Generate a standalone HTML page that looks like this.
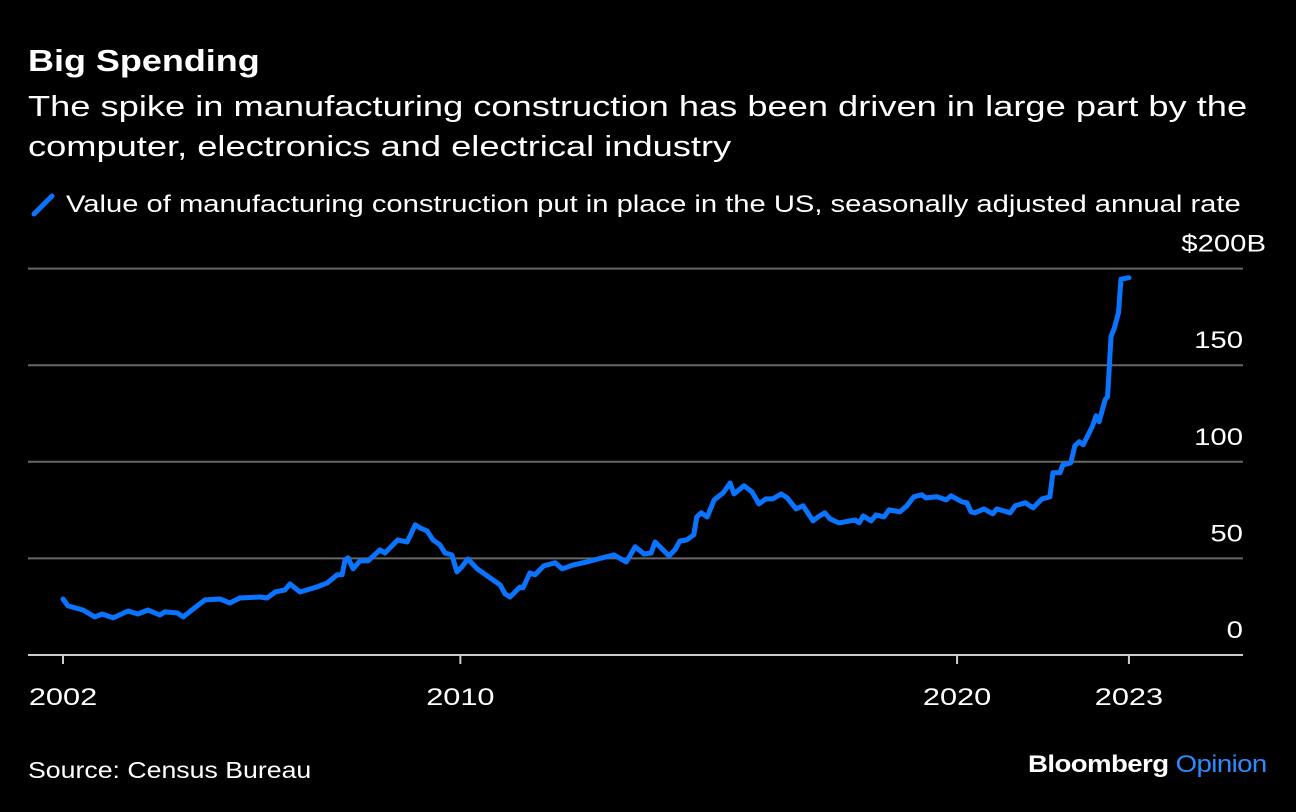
<!DOCTYPE html>
<html><head><meta charset="utf-8"><style>
body{margin:0;background:#000;width:1296px;height:812px;overflow:hidden;font-family:"Liberation Sans",Arial,sans-serif;color:#fff}
.t{position:absolute;white-space:nowrap;transform-origin:0 0}
</style></head><body>
<div class="t" style="left:28px;top:43px;font-size:31px;font-weight:bold;transform:scaleX(1.16)">Big Spending</div>
<div class="t" style="left:28px;top:87px;font-size:29px;line-height:40px;transform:scaleX(1.25)">The spike in manufacturing construction has been driven in large part by the<br>computer, electronics and electrical industry</div>
<svg width="26" height="30" style="position:absolute;left:30px;top:190px"><line x1="4" y1="24" x2="22" y2="6" stroke="#0a74ff" stroke-width="5" stroke-linecap="round"/></svg>
<div class="t" style="left:66px;top:191px;font-size:24px;transform:scaleX(1.215)">Value of manufacturing construction put in place in the US, seasonally adjusted annual rate</div>
<svg id="chart" width="1296" height="812" style="position:absolute;left:0;top:0"></svg>
<div class="t" style="left:28px;top:757px;font-size:23px;transform:scaleX(1.16)">Source: Census Bureau</div>
<div class="t" style="left:1028px;top:751px;font-size:24px;font-weight:bold;letter-spacing:-0.5px;transform:scaleX(1.15)">Bloomberg <span style="color:#2b8bff;font-weight:normal">Opinion</span></div>
<script>
const years=[2002.0,2002.10,2002.40,2002.64,2002.79,2003.01,2003.31,2003.51,2003.71,2003.95,2004.05,2004.30,2004.42,2004.62,2004.86,2005.16,2005.36,2005.56,2005.97,2006.11,2006.27,2006.47,2006.57,2006.77,2007.11,2007.32,2007.52,2007.62,2007.68,2007.74,2007.84,2007.98,2008.14,2008.38,2008.48,2008.74,2008.93,2009.09,2009.19,2009.33,2009.45,2009.59,2009.69,2009.83,2009.93,2010.03,2010.15,2010.34,2010.80,2010.90,2011.00,2011.20,2011.26,2011.40,2011.50,2011.68,2011.91,2012.05,2012.27,2012.55,2012.77,2013.09,2013.34,2013.52,2013.70,2013.84,2013.92,2014.20,2014.32,2014.42,2014.56,2014.70,2014.76,2014.85,2014.97,2015.11,2015.29,2015.43,2015.51,2015.71,2015.87,2016.01,2016.15,2016.29,2016.46,2016.58,2016.76,2016.90,2017.10,2017.20,2017.34,2017.44,2017.62,2017.95,2018.03,2018.11,2018.27,2018.37,2018.53,2018.63,2018.85,2018.99,2019.13,2019.29,2019.37,2019.60,2019.78,2019.88,2020.10,2020.20,2020.28,2020.36,2020.54,2020.72,2020.80,2021.07,2021.17,2021.37,2021.53,2021.71,2021.87,2021.93,2022.07,2022.13,2022.29,2022.37,2022.46,2022.54,2022.72,2022.80,2022.86,2022.98,2023.03,2023.10,2023.17,2023.25,2023.30,2023.46];
const values=[29,25.4,23.3,19.7,21.2,19.2,22.8,21.2,23.3,20.7,22.3,21.8,19.7,23.8,28.5,29,26.9,29.5,30,29.5,32.6,33.7,36.8,32.6,35.2,37.3,41.5,41.5,49.2,50.3,44.6,48.7,48.7,54.4,52.8,59.6,58.5,67.4,65.8,64.2,59.6,57,52.8,51.8,43,45.6,49.7,44.6,36.3,31.6,30,35.2,34.7,42.5,41.5,46.1,47.7,44.6,46.6,48.2,49.7,51.8,48.2,56,52.3,52.8,58.5,51.3,54.4,59,59.6,62.2,71.5,73.6,71.5,80.3,83.9,89.1,83.4,87.6,84.5,78.2,80.8,80.8,83.4,81.3,75.6,77.2,69.4,71.5,73.6,70.5,68.4,69.9,68.4,72,69.4,72.5,71.5,75.1,74.1,77.2,81.9,82.9,81.3,81.9,80.3,82.4,79.3,78.8,74.1,73.6,75.6,73.1,75.6,73.6,77.2,78.8,76.2,80.8,81.9,94.3,94.3,98.4,99.5,108.3,110.4,108.8,118.1,123.8,120.7,132.1,133.7,164.8,169.4,177.2,194.5,195.3,196.9];
const yTicks=[0,50,100,150,200];
const yTickLabels=["0","50","100","150","$200B"];
const xTicks=[2002,2010,2020,2023.46];
const xTickLabels=["2002","2010","2020","2023"];
const NS="http://www.w3.org/2000/svg";
const svg=document.getElementById('chart');
const X=t=>63+(t-2002)*49.67;
const Y=v=>655-v*1.932;
function mk(tag,attrs){const e=document.createElementNS(NS,tag);for(const k in attrs)e.setAttribute(k,attrs[k]);svg.appendChild(e);return e;}
function stretch(el,f){const w=el.getComputedTextLength();el.setAttribute('textLength',(w*f).toFixed(1));el.setAttribute('lengthAdjust','spacingAndGlyphs');}
yTicks.forEach((v,i)=>{
  if(v>0){const g=mk('line',{x1:28,x2:1243,y1:Y(v),y2:Y(v),stroke:'#666','stroke-width':2});
  
  }
  const last=i===yTicks.length-1;
  const t=mk('text',{x:last?1266:1243,y:Y(v)-17,'text-anchor':'end',fill:'#fff','font-size':24,'font-family':'Liberation Sans, Arial, sans-serif'});
  t.textContent=yTickLabels[i];
  
  
  stretch(t,1.22);
});
const base=mk('line',{x1:28,x2:1243,y1:Y(0),y2:Y(0),stroke:'#ccc','stroke-width':2});


xTicks.forEach((t,i)=>{
  const l=mk('line',{x1:X(t),x2:X(t),y1:Y(0),y2:Y(0)+9,stroke:'#ccc','stroke-width':2});
  
  
  const tx=mk('text',{x:X(t),y:705,'text-anchor':'middle',fill:'#fff','font-size':24,'font-family':'Liberation Sans, Arial, sans-serif'});
  tx.textContent=xTickLabels[i];
  
  
  stretch(tx,1.28);
});
const p=mk('polyline',{points:years.map((t,i)=>X(t).toFixed(1)+','+Y(values[i]).toFixed(1)).join(' '),fill:'none',stroke:'#0a74ff','stroke-width':5,'stroke-linejoin':'round','stroke-linecap':'round'});


</script>
</body></html>
